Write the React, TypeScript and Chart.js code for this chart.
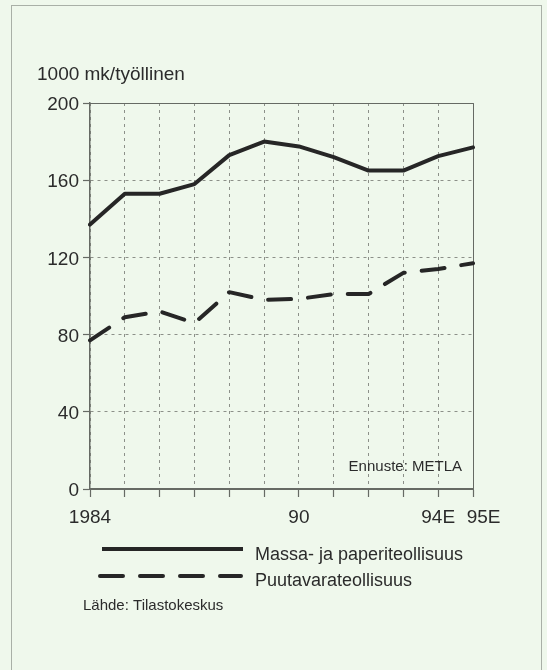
import React, { useEffect, useRef } from 'react';
import { Chart, registerables } from 'chart.js';

Chart.register(...registerables);

const years = ['1984', '1985', '1986', '1987', '1988', '1989', '1990', '1991', '1992', '1993', '1994', '1995'];
const tickLabels = ['1984', '', '', '', '', '', '90', '', '', '', '94E', '95E'];
const massaPaperi = [137, 153, 153, 158, 173, 180, 177.5, 172, 165, 165, 172.5, 177];
const puutavara = [77, 89, 92, 86, 102, 98, 98.5, 101, 101, 112, 114, 117];
const seriesNames = ['Massa- ja paperiteollisuus', 'Puutavarateollisuus'];
const titleText = '1000 mk/työllinen';
const sourceText = 'Lähde: Tilastokeskus';
const noteText = 'Ennuste: METLA';

const FONT = "'Liberation Sans', Arial, Helvetica, sans-serif";
const INK = '#2b2b2b';
const LINE = '#262626';
const GRID = '#8c9089';
const AXIS = '#666a64';
const DASH = [23, 17];

export default function App() {
  const ref = useRef<HTMLCanvasElement | null>(null);

  useEffect(() => {
    if (!ref.current) return;
    const decor = {
      id: 'decor',
      beforeDatasetsDraw(chart: any) {
        const { ctx, chartArea } = chart;
        ctx.save();
        ctx.strokeStyle = AXIS;
        ctx.lineWidth = 1;
        ctx.beginPath();
        ctx.moveTo(chartArea.left, chartArea.top + 0.5);
        ctx.lineTo(chartArea.right + 0.5, chartArea.top + 0.5);
        ctx.lineTo(chartArea.right + 0.5, chartArea.bottom);
        ctx.stroke();
        ctx.restore();
      },
      afterDraw(chart: any) {
        const { ctx, chartArea } = chart;
        ctx.save();
        ctx.fillStyle = INK;
        // title
        ctx.font = `19px ${FONT}`;
        ctx.textAlign = 'left';
        ctx.textBaseline = 'alphabetic';
        ctx.fillText(titleText, 37, 80);
        // note
        ctx.font = `15px ${FONT}`;
        ctx.textAlign = 'right';
        ctx.textBaseline = 'middle';
        ctx.fillText(noteText, chartArea.right - 11, 467);
        // legend
        ctx.strokeStyle = LINE;
        ctx.lineWidth = 4;
        ctx.lineCap = 'butt';
        ctx.setLineDash([]);
        ctx.beginPath();
        ctx.moveTo(102, 549);
        ctx.lineTo(243, 549);
        ctx.stroke();
        ctx.lineCap = 'round';
        ctx.setLineDash(DASH);
        ctx.beginPath();
        ctx.moveTo(100, 576);
        ctx.lineTo(241, 576);
        ctx.stroke();
        ctx.setLineDash([]);
        ctx.font = `18px ${FONT}`;
        ctx.textAlign = 'left';
        ctx.textBaseline = 'middle';
        ctx.fillText(seriesNames[0], 255, 555);
        ctx.fillText(seriesNames[1], 255, 581);
        // source
        ctx.font = `15px ${FONT}`;
        ctx.fillText(sourceText, 83, 606);
        ctx.restore();
      },
    };

    const chart = new Chart(ref.current, {
      type: 'line',
      data: {
        labels: years,
        datasets: [
          {
            label: seriesNames[0],
            data: massaPaperi,
            borderColor: LINE,
            borderWidth: 4,
            pointRadius: 0,
            tension: 0,
            borderJoinStyle: 'round',
            borderCapStyle: 'round',
          },
          {
            label: seriesNames[1],
            data: puutavara,
            borderColor: LINE,
            borderWidth: 4,
            pointRadius: 0,
            tension: 0,
            borderDash: DASH,
            borderCapStyle: 'round',
            borderJoinStyle: 'round',
          },
        ],
      },
      options: {
        responsive: false,
        animation: false,
        devicePixelRatio: 1,
        layout: { padding: { top: 103, left: 0, right: 74, bottom: 141 } },
        plugins: {
          legend: { display: false },
          title: { display: false },
          tooltip: { enabled: false },
        },
        scales: {
          x: {
            type: 'category',
            offset: false,
            afterFit: (s: any) => { s.height = 40; },
            grid: {
              color: GRID,
              lineWidth: 1,
              tickLength: 8,
              tickColor: AXIS,
              tickWidth: 1.2,
              tickBorderDash: [],
            },
            border: { display: true, color: AXIS, width: 2, dash: [3, 4] },
            ticks: {
              autoSkip: false,
              maxRotation: 0,
              padding: 9,
              color: INK,
              font: { family: FONT, size: 19 },
              callback: (_v: any, i: number) =>
                i === tickLabels.length - 1 ? '    ' + tickLabels[i] : tickLabels[i],
            },
          },
          y: {
            min: 0,
            max: 200,
            afterFit: (s: any) => { s.width = 90; },
            grid: {
              color: GRID,
              lineWidth: 1,
              tickLength: 7,
              tickColor: AXIS,
              tickWidth: 1.2,
              tickBorderDash: [],
            },
            border: { display: true, color: AXIS, width: 1.5, dash: [3, 4] },
            ticks: {
              stepSize: 40,
              padding: 4,
              labelOffset: 2,
              color: INK,
              font: { family: FONT, size: 19 },
            },
          },
        },
      },
      plugins: [decor],
    } as any);
    return () => chart.destroy();
  }, []);

  return (
    <div style={{ position: 'fixed', left: 0, top: 0, width: 547, height: 670, background: '#eff8ec', overflow: 'hidden' }}>
      <div style={{ position: 'absolute', left: 11, top: 5, width: 529, height: 700, border: '1px solid #a9b0a7' }} />
      <canvas ref={ref} width={547} height={670} style={{ position: 'absolute', left: 0, top: 0, width: 547, height: 670 }} />
    </div>
  );
}
